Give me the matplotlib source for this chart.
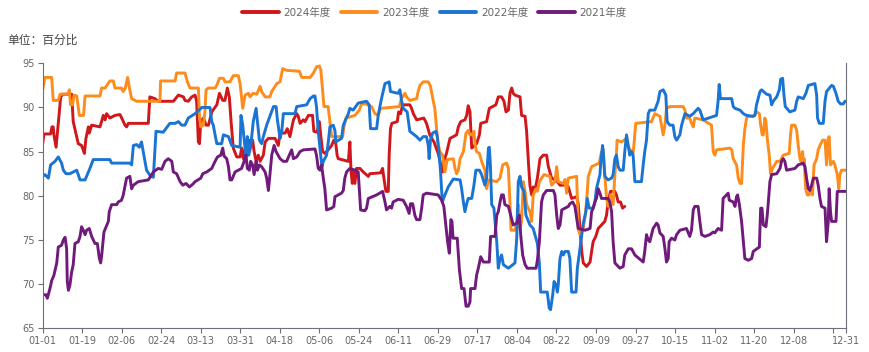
"""Daily share chart, four years compared (2021-2024)."""

import numpy as np
import matplotlib
matplotlib.use("Agg")
import matplotlib.pyplot as plt

plt.rcParams['font.family'] = ['DejaVu Sans', 'Noto Sans CJK SC']

# x positions are day-of-year indices (01-01 = 0)
tick_days = list(range(0, 361, 18)) + [366]
tick_labels = ['01-01', '01-19', '02-06', '02-24', '03-13', '03-31', '04-18',
               '05-06', '05-24', '06-11', '06-29', '07-17', '08-04', '08-22',
               '09-09', '09-27', '10-15', '11-02', '11-20', '12-08', '', '12-31']

series_names = ['2024年度', '2023年度', '2022年度', '2021年度']
series_colors = ['#d0171b', '#fd8c1c', '#1a74d4', '#701b7c']

# (day, value) vertices
pts_2024 = [
    (0, 85.9), (0.6, 87.0), (3.6, 87.0), (4.2, 87.8), (4.8, 87.8), (5.1, 86.9), (6.1, 85.5),
    (8.2, 91.2), (9.1, 91.5), (13.2, 91.5), (13.9, 88.4), (16.2, 85.9), (17.7, 85.7), (19.0, 84.8),
    (19.7, 86.5), (20.8, 87.8), (21.2, 87.1), (22.3, 88.0), (26.1, 87.8), (27.6, 89.1), (28.4, 88.6),
    (29.1, 89.3), (30.6, 88.8), (32.9, 89.1), (35.2, 89.2), (37.5, 88.0), (38.2, 87.8), (39.0, 88.2),
    (48.1, 88.2), (48.8, 91.2), (51.1, 91.0), (52.6, 90.7), (59.5, 90.7), (61.8, 91.4), (64.1, 91.2),
    (64.8, 90.8), (66.3, 90.7), (67.9, 91.2), (69.4, 91.4), (70.1, 90.7), (70.9, 86.1), (71.4, 85.9),
    (72.0, 88.4), (73.2, 88.8), (74.4, 88.0), (75.5, 88.0), (77.0, 89.5), (79.3, 90.3), (80.5, 91.6),
    (82.0, 90.8), (83.0, 90.8), (84.1, 92.2), (85.0, 91.2), (85.8, 88.4), (86.8, 85.4), (88.4, 84.4),
    (89.9, 84.4), (90.6, 85.4), (91.4, 84.2), (92.6, 85.9), (93.7, 85.0), (94.4, 86.3), (95.6, 86.3),
    (96.3, 85.0), (97.2, 83.9), (98.2, 84.6), (99.0, 83.9), (100.5, 84.6), (101.3, 86.1), (102.8, 86.5),
    (105.8, 86.5), (107.3, 85.7), (108.1, 87.1), (110.4, 87.1), (111.4, 87.6), (112.6, 86.7),
    (114.2, 88.6), (115.7, 89.3), (116.4, 89.0), (117.2, 88.2), (118.7, 88.6), (119.5, 88.4),
    (121.0, 89.1), (122.9, 89.1), (123.5, 87.3), (125.0, 87.2), (126.0, 88.4), (126.6, 86.9),
    (127.5, 85.0), (128.5, 84.8), (130.0, 85.2), (131.6, 85.7), (132.6, 86.3), (133.5, 85.9),
    (134.1, 84.6), (134.6, 84.2), (139.2, 83.9), (139.9, 86.1), (140.4, 82.9), (141.0, 81.4),
    (141.4, 82.7), (142.2, 81.4), (142.9, 83.1), (144.5, 83.1), (146.0, 82.7), (148.3, 82.2),
    (149.0, 82.5), (153.9, 82.6), (154.8, 83.1), (155.4, 82.0), (156.3, 80.5), (157.4, 80.5),
    (157.8, 84.6), (158.4, 87.6), (159.0, 88.2), (161.5, 88.4), (162.1, 89.5), (163.0, 89.3),
    (163.9, 90.3), (167.2, 90.3), (168.0, 89.9), (168.8, 89.3), (170.3, 88.6), (173.6, 88.8),
    (174.8, 88.2), (176.3, 86.9), (178.2, 86.1), (180.1, 84.8), (181.7, 83.1), (182.1, 82.7),
    (182.7, 83.9), (183.9, 84.8), (185.5, 86.5), (188.5, 86.9), (189.3, 87.8), (190.4, 88.4),
    (192.3, 88.6), (193.1, 89.1), (193.8, 90.2), (194.6, 89.5), (195.4, 85.4), (197.6, 85.9),
    (198.9, 86.9), (199.5, 88.2), (202.2, 88.4), (203.4, 89.9), (206.4, 90.3), (207.5, 91.2),
    (209.0, 91.2), (210.1, 90.7), (211.0, 89.5), (212.1, 89.7), (212.8, 91.6), (213.6, 92.2),
    (214.3, 91.6), (215.1, 91.4), (217.4, 91.2), (218.1, 89.1), (219.7, 89.0), (220.4, 87.3),
    (221.2, 83.9), (221.9, 81.2), (222.7, 80.1), (223.4, 81.0), (224.2, 80.6), (225.3, 82.0),
    (226.5, 84.2), (228.0, 84.6), (229.5, 84.6), (230.3, 83.3), (231.8, 82.0), (234.1, 81.7),
    (235.6, 81.2), (237.1, 81.2), (237.9, 81.8), (239.4, 81.0), (240.9, 79.7), (243.2, 79.9),
    (243.9, 79.1), (244.7, 76.3), (245.5, 73.7), (246.2, 72.4), (247.7, 72.0), (249.3, 72.5),
    (250.0, 73.7), (250.7, 74.8), (251.9, 75.4), (253.0, 76.3), (254.5, 76.7), (256.0, 77.1),
    (256.8, 77.8), (257.5, 79.3), (258.6, 80.5), (260.6, 80.5), (261.3, 80.1), (262.1, 79.3),
    (263.2, 79.3), (264.1, 78.6), (265.1, 78.8),
]

pts_2023 = [
    (0, 92.0), (1.0, 93.4), (4.1, 93.4), (4.8, 90.8), (7.1, 90.8), (7.9, 91.5), (11.7, 91.5),
    (12.1, 92.0), (12.7, 90.3), (13.6, 90.3), (14.3, 91.4), (15.5, 91.3), (16.7, 89.1), (18.6, 89.1),
    (19.3, 91.3), (26.1, 91.3), (26.8, 92.2), (28.4, 92.2), (30.6, 93.0), (32.2, 93.0), (32.9, 92.2),
    (35.9, 92.2), (36.7, 91.8), (37.6, 92.2), (38.7, 93.4), (39.5, 92.2), (40.5, 91.0), (42.8, 90.7),
    (53.4, 90.7), (53.7, 93.0), (60.3, 93.0), (61.0, 93.9), (64.8, 93.9), (65.9, 92.9), (67.1, 92.2),
    (70.9, 92.2), (71.4, 89.1), (72.0, 87.8), (73.2, 88.0), (73.9, 89.5), (74.4, 92.0), (75.5, 92.2),
    (78.5, 92.2), (79.3, 92.5), (80.5, 93.3), (82.3, 93.3), (83.0, 92.9), (85.3, 92.9), (86.8, 93.6),
    (89.1, 93.6), (89.9, 92.7), (91.1, 89.9), (92.2, 91.4), (93.7, 91.6), (94.4, 91.2), (95.9, 91.6),
    (97.5, 91.5), (99.0, 92.4), (99.7, 91.8), (101.3, 91.2), (103.5, 91.2), (104.3, 91.8),
    (106.6, 92.7), (108.1, 92.9), (109.3, 94.4), (111.1, 94.2), (116.9, 94.1), (118.0, 93.4),
    (121.8, 93.4), (123.3, 93.9), (124.7, 94.6), (126.0, 94.7), (126.7, 94.2), (127.5, 91.8),
    (128.1, 90.1), (130.0, 90.1), (130.8, 88.4), (131.6, 86.7), (136.6, 86.7), (137.2, 87.8),
    (138.1, 88.8), (142.2, 89.1), (144.2, 89.7), (145.2, 90.4), (147.2, 90.4), (149.8, 90.1),
    (151.3, 89.3), (152.8, 89.1), (153.9, 89.9), (162.4, 90.1), (163.4, 91.0), (165.0, 91.6),
    (165.7, 91.2), (167.2, 90.8), (170.3, 91.0), (171.0, 91.8), (171.8, 92.5), (173.3, 92.9),
    (175.6, 92.9), (176.6, 92.4), (177.9, 90.7), (178.6, 89.9), (179.4, 87.6), (180.1, 85.9),
    (180.9, 85.0), (182.1, 84.6), (183.2, 82.7), (184.2, 84.1), (187.0, 84.2), (187.8, 83.1),
    (188.5, 82.5), (189.3, 82.9), (190.1, 84.2), (191.6, 85.0), (192.8, 87.1), (193.8, 87.4),
    (194.6, 86.9), (195.4, 86.9), (196.4, 87.3), (196.9, 85.9), (197.6, 85.0), (198.9, 84.8),
    (199.9, 83.9), (201.4, 82.9), (202.2, 80.8), (203.0, 81.8), (206.7, 81.6), (208.3, 82.0),
    (209.5, 83.5), (211.3, 83.7), (212.1, 83.1), (212.8, 79.3), (213.3, 76.1), (215.1, 76.1),
    (215.9, 76.9), (216.6, 79.0), (217.4, 76.3), (218.1, 77.1), (218.9, 81.6), (219.7, 80.5),
    (220.4, 79.0), (221.9, 78.2), (222.7, 77.1), (223.4, 80.1), (224.7, 80.8), (225.3, 80.5),
    (226.2, 81.6), (228.3, 82.4), (231.0, 82.2), (231.8, 81.2), (233.3, 81.6), (234.1, 83.3),
    (234.8, 81.6), (237.1, 81.4), (237.9, 81.8), (238.6, 80.3), (239.4, 82.0), (243.2, 82.2),
    (243.9, 76.3), (244.7, 75.6), (246.2, 76.3), (247.0, 77.6), (247.7, 79.3), (248.5, 82.2),
    (250.0, 83.3), (253.5, 83.7), (254.5, 85.0), (255.3, 85.2), (256.0, 82.4), (256.8, 79.7),
    (257.5, 78.8), (258.0, 78.8), (258.6, 80.1), (259.8, 79.0), (260.6, 82.4), (261.3, 84.6),
    (261.6, 86.3), (263.6, 86.1), (265.9, 86.5), (266.7, 85.5), (268.9, 84.8), (269.4, 86.1),
    (270.1, 88.2), (277.3, 88.4), (278.8, 89.3), (281.1, 89.0), (281.8, 88.0), (282.6, 86.9),
    (283.4, 88.0), (284.1, 89.9), (285.6, 90.1), (291.7, 90.1), (292.5, 89.7), (293.2, 88.8),
    (294.7, 88.8), (295.5, 88.2), (296.3, 87.8), (297.0, 88.8), (300.8, 88.6), (304.6, 88.0),
    (305.4, 85.0), (306.1, 84.6), (306.9, 85.2), (313.0, 85.4), (313.8, 85.2), (314.5, 84.2),
    (316.0, 83.5), (316.8, 82.0), (317.6, 81.4), (318.3, 81.4), (319.1, 85.7), (319.8, 87.6),
    (320.6, 88.8), (321.3, 89.0), (323.6, 89.0), (325.1, 89.5), (326.4, 89.3), (327.0, 88.0),
    (327.7, 86.9), (328.2, 86.9), (328.9, 88.8), (329.4, 88.4), (330.0, 86.5), (330.9, 84.6),
    (331.5, 82.5), (332.4, 83.1), (334.3, 83.9), (335.8, 83.9), (337.3, 84.6), (340.0, 84.8),
    (340.6, 86.9), (341.1, 88.0), (342.6, 88.0), (343.4, 87.4), (344.1, 85.7), (344.9, 84.2),
    (345.3, 83.9), (346.1, 85.0), (346.4, 83.5), (346.8, 84.2), (347.5, 80.8), (348.2, 80.1),
    (349.1, 80.1), (349.7, 80.8), (350.6, 80.1), (351.3, 83.5), (352.5, 84.2), (353.2, 85.2),
    (354.0, 85.7), (355.2, 86.3), (356.3, 86.3), (357.0, 83.5), (357.8, 86.5), (358.2, 86.7),
    (358.8, 83.5), (360.1, 83.9), (360.8, 83.5), (361.9, 82.4), (362.6, 80.8), (363.1, 82.4),
    (363.8, 82.9), (366.0, 82.9),
]

pts_2022 = [
    (0, 82.2), (1.0, 82.4), (2.6, 82.0), (3.6, 83.5), (5.6, 83.9), (7.1, 84.4), (8.6, 83.7),
    (9.4, 82.9), (10.6, 82.5), (12.4, 82.5), (13.9, 82.7), (15.5, 82.9), (16.2, 82.4), (17.0, 81.8),
    (19.3, 81.8), (20.8, 82.7), (21.5, 83.1), (23.0, 84.1), (30.6, 84.1), (31.4, 83.7), (39.7, 83.7),
    (40.5, 83.5), (41.3, 85.7), (42.8, 85.8), (44.0, 85.5), (45.0, 86.1), (45.8, 85.0), (47.3, 82.9),
    (49.2, 82.2), (50.4, 82.1), (51.6, 87.3), (54.9, 87.2), (57.9, 88.2), (60.3, 88.2), (61.8, 88.4),
    (63.3, 88.0), (64.8, 88.0), (66.3, 88.8), (69.4, 89.3), (71.7, 89.8), (72.4, 90.0), (76.2, 90.0),
    (77.0, 88.4), (77.7, 88.0), (78.5, 86.9), (79.3, 85.9), (81.5, 85.9), (82.3, 86.9), (84.6, 86.7),
    (86.1, 85.7), (89.9, 85.5), (90.3, 89.1), (91.1, 88.0), (91.7, 86.5), (92.6, 84.4), (93.2, 86.7),
    (93.8, 84.6), (94.7, 85.5), (95.9, 88.4), (97.2, 89.9), (97.8, 88.4), (98.7, 86.3), (99.7, 85.9),
    (100.5, 86.7), (102.0, 88.0), (103.5, 89.0), (105.1, 90.1), (106.3, 90.1), (106.9, 88.6),
    (108.1, 86.5), (108.9, 87.3), (109.6, 89.3), (114.9, 89.3), (115.7, 90.1), (120.2, 90.3),
    (121.8, 91.0), (123.3, 91.3), (124.0, 91.3), (124.7, 90.1), (125.5, 87.3), (126.6, 84.6),
    (127.2, 83.3), (127.8, 83.9), (129.3, 84.6), (130.0, 85.9), (130.8, 87.8), (132.3, 88.0),
    (133.1, 87.4), (133.5, 86.1), (136.1, 86.5), (136.9, 88.0), (139.2, 89.3), (139.9, 89.9),
    (141.4, 89.7), (143.7, 90.5), (147.5, 90.7), (148.7, 90.3), (149.3, 87.6), (152.1, 87.6),
    (152.8, 89.1), (154.3, 91.0), (155.9, 92.7), (157.8, 92.9), (158.4, 91.8), (161.9, 91.6),
    (162.7, 92.0), (163.4, 90.8), (164.2, 89.9), (166.0, 89.5), (167.2, 87.3), (170.3, 86.7),
    (171.8, 86.3), (173.3, 86.7), (174.8, 86.7), (175.6, 85.7), (176.0, 84.2), (176.6, 86.3),
    (177.6, 87.1), (179.1, 87.3), (179.7, 86.7), (180.6, 84.6), (181.2, 82.7), (182.0, 79.3),
    (183.2, 80.1), (184.7, 81.0), (186.2, 81.6), (187.0, 81.9), (190.1, 81.8), (190.8, 80.8),
    (191.6, 79.3), (192.3, 78.2), (193.1, 79.1), (193.8, 79.7), (195.4, 79.7), (196.4, 81.2),
    (197.3, 82.9), (198.9, 82.9), (199.9, 82.4), (201.4, 81.2), (202.2, 82.0), (203.0, 85.4),
    (203.4, 85.5), (203.9, 83.5), (204.5, 79.0), (205.5, 78.6), (206.8, 74.8), (207.5, 71.8),
    (208.3, 72.9), (209.0, 73.3), (209.8, 72.2), (212.1, 71.8), (215.1, 72.4), (215.9, 75.2),
    (216.6, 81.6), (217.4, 82.2), (218.1, 81.0), (219.2, 80.5), (220.1, 77.8), (221.9, 76.7),
    (223.4, 76.3), (224.2, 75.6), (225.3, 74.6), (226.2, 72.4), (226.8, 69.1), (229.8, 69.1),
    (230.7, 67.3), (231.3, 67.1), (232.3, 68.8), (232.9, 70.3), (233.8, 69.9), (234.4, 69.1),
    (234.8, 69.9), (235.6, 72.9), (236.4, 73.7), (237.1, 73.3), (237.9, 73.7), (239.4, 73.7),
    (240.1, 72.9), (240.9, 69.1), (242.9, 69.1), (243.5, 71.8), (244.7, 74.0), (246.2, 76.9),
    (247.4, 78.2), (248.0, 79.7), (248.9, 78.6), (250.7, 78.6), (251.5, 79.3), (252.2, 80.8),
    (253.8, 82.4), (254.2, 83.9), (255.0, 85.7), (255.3, 85.0), (256.0, 82.2), (257.5, 81.8),
    (259.1, 82.0), (259.8, 82.4), (260.6, 84.2), (261.3, 84.6), (262.1, 83.3), (262.9, 82.9),
    (264.4, 82.9), (265.1, 85.0), (265.9, 86.9), (266.7, 85.7), (267.4, 84.6), (268.2, 85.0),
    (268.9, 84.6), (269.7, 81.6), (272.7, 81.6), (273.5, 83.5), (274.2, 85.0), (275.0, 86.3),
    (275.8, 89.3), (276.5, 89.7), (278.8, 89.7), (280.3, 90.7), (281.1, 91.8), (282.6, 92.0),
    (283.8, 91.4), (284.4, 88.4), (285.6, 88.0), (287.1, 88.0), (287.9, 86.7), (288.7, 86.3),
    (290.2, 86.9), (291.0, 88.0), (292.5, 89.3), (294.7, 89.0), (296.3, 89.3), (298.5, 89.9),
    (299.3, 89.7), (300.8, 88.6), (306.9, 89.1), (307.6, 90.7), (308.1, 92.6), (308.7, 91.0),
    (311.4, 91.0), (313.8, 91.0), (314.5, 90.1), (315.3, 89.9), (317.6, 89.7), (319.1, 89.3),
    (320.6, 89.1), (323.6, 89.0), (324.4, 89.1), (325.1, 90.3), (326.7, 91.8), (327.4, 92.0),
    (329.7, 91.5), (331.2, 91.4), (332.0, 90.3), (332.7, 90.7), (334.3, 91.2), (335.5, 92.0),
    (336.1, 93.2), (337.0, 93.3), (337.6, 91.4), (338.2, 90.1), (340.3, 89.5), (342.6, 89.7),
    (343.4, 90.7), (344.1, 91.2), (346.4, 91.0), (347.6, 91.6), (348.7, 92.5), (351.7, 92.7),
    (352.5, 91.4), (352.9, 88.8), (353.7, 88.2), (355.5, 88.2), (356.3, 90.7), (357.0, 91.8),
    (359.3, 92.5), (360.1, 92.4), (361.3, 91.6), (362.3, 90.7), (363.4, 90.4), (364.6, 90.4),
    (365.4, 90.7), (366.0, 90.7),
]

pts_2021 = [
    (0, 68.8), (1.5, 68.8), (2.1, 68.4), (3.3, 69.5), (4.1, 70.4), (5.1, 71.0), (6.4, 72.4),
    (7.1, 74.2), (8.6, 74.4), (9.4, 75.0), (10.2, 75.3), (10.9, 74.0), (11.2, 70.3), (11.7, 69.3),
    (12.4, 69.9), (13.2, 71.4), (13.9, 72.2), (14.7, 74.6), (16.2, 74.8), (17.0, 75.4), (17.7, 76.5),
    (18.5, 76.1), (19.3, 75.6), (20.0, 76.1), (21.2, 76.3), (22.3, 75.4), (23.8, 74.6), (24.9, 74.6),
    (25.8, 72.9), (26.4, 72.4), (26.8, 73.1), (27.9, 75.9), (29.9, 77.1), (30.3, 78.2), (31.4, 79.0),
    (33.7, 79.0), (34.4, 79.3), (35.9, 79.5), (36.7, 80.1), (38.2, 82.0), (39.7, 82.2), (40.5, 80.8),
    (41.3, 81.2), (43.5, 81.6), (48.1, 81.8), (50.4, 82.7), (52.6, 83.1), (54.2, 83.0), (55.7, 83.9),
    (57.2, 84.2), (58.8, 83.9), (59.5, 82.7), (61.0, 82.5), (62.6, 81.6), (63.8, 81.2), (65.3, 81.4),
    (66.8, 81.0), (68.3, 81.3), (69.4, 81.6), (72.0, 82.0), (72.9, 82.5), (74.7, 82.7), (77.0, 83.1),
    (78.5, 83.9), (79.6, 84.4), (81.1, 84.6), (82.0, 85.4), (82.6, 84.5), (83.8, 84.2), (84.6, 83.3),
    (85.3, 81.8), (86.1, 81.8), (87.6, 82.7), (90.6, 83.1), (91.7, 83.9), (92.6, 84.6), (93.2, 83.1),
    (94.1, 82.9), (94.7, 83.9), (95.6, 83.5), (96.3, 82.4), (97.2, 83.9), (97.8, 82.9), (98.7, 83.5),
    (99.7, 83.3), (101.3, 82.7), (102.0, 82.0), (102.8, 80.6), (103.5, 82.4), (104.3, 84.6),
    (105.4, 85.7), (106.3, 85.0), (108.1, 84.2), (109.6, 83.9), (111.1, 83.9), (112.3, 84.6),
    (113.4, 85.2), (114.2, 84.2), (115.7, 84.4), (117.2, 85.0), (118.7, 85.2), (124.0, 85.3),
    (124.7, 84.6), (125.5, 83.1), (126.3, 82.9), (127.0, 83.5), (127.8, 82.0), (128.5, 80.8),
    (129.3, 78.4), (131.6, 78.6), (132.6, 78.8), (133.1, 79.9), (136.1, 80.3), (136.9, 80.6),
    (137.6, 82.0), (138.4, 82.7), (139.9, 83.1), (142.2, 82.9), (143.7, 82.7), (144.2, 80.8),
    (144.8, 78.4), (146.7, 78.3), (147.5, 78.6), (148.3, 79.7), (152.1, 80.1), (154.8, 80.5),
    (155.9, 79.3), (156.6, 78.4), (158.1, 78.8), (158.9, 78.6), (159.6, 79.3), (161.9, 79.6),
    (164.2, 79.5), (165.7, 78.8), (166.9, 78.0), (167.5, 79.1), (168.5, 79.1), (169.5, 77.8),
    (170.3, 77.3), (171.8, 77.3), (172.6, 78.6), (173.3, 80.1), (174.8, 80.3), (180.1, 80.1),
    (181.7, 79.5), (182.7, 78.8), (183.6, 76.7), (184.4, 74.8), (185.2, 73.5), (185.9, 77.3),
    (186.4, 77.1), (186.9, 75.2), (188.8, 75.2), (189.8, 71.6), (190.8, 69.5), (191.9, 69.5),
    (192.8, 67.5), (193.8, 67.5), (194.6, 68.0), (194.9, 69.5), (196.9, 69.5), (197.6, 71.0),
    (198.4, 71.8), (199.5, 73.1), (200.7, 72.5), (203.4, 72.5), (204.0, 75.4), (206.0, 75.4),
    (206.8, 77.8), (207.5, 78.2), (208.3, 79.3), (209.0, 80.1), (209.8, 80.1), (210.5, 79.0),
    (212.1, 78.8), (213.6, 77.4), (214.3, 76.7), (215.9, 76.9), (217.1, 77.8), (217.7, 75.6),
    (218.6, 73.3), (219.7, 72.2), (220.7, 71.8), (224.7, 71.8), (225.3, 72.7), (226.2, 74.8),
    (227.2, 79.3), (228.0, 80.1), (229.5, 80.6), (232.6, 80.6), (233.3, 80.1), (234.1, 77.8),
    (234.8, 76.3), (235.6, 76.7), (236.4, 78.4), (239.4, 78.8), (240.1, 79.1), (241.4, 79.3),
    (242.4, 78.8), (243.9, 76.3), (247.0, 76.1), (249.3, 76.3), (250.0, 78.2), (250.7, 78.6),
    (251.5, 79.3), (252.2, 79.7), (253.0, 80.8), (253.8, 80.3), (254.5, 79.7), (257.5, 79.7),
    (258.3, 79.3), (259.1, 78.2), (259.8, 74.8), (260.6, 72.4), (262.9, 71.8), (264.4, 72.0),
    (265.1, 73.3), (266.7, 74.0), (268.2, 74.0), (269.7, 73.3), (273.5, 72.5), (274.2, 73.7),
    (275.0, 75.6), (275.8, 75.0), (276.5, 74.8), (278.0, 76.3), (279.6, 76.9), (280.3, 76.7),
    (281.1, 75.8), (282.6, 75.4), (283.4, 74.0), (284.1, 72.5), (284.9, 72.9), (285.3, 74.8),
    (286.4, 75.2), (287.9, 75.0), (288.7, 75.6), (290.2, 76.1), (293.2, 76.3), (294.7, 75.4),
    (295.5, 76.1), (296.3, 78.4), (297.0, 78.8), (298.5, 78.8), (299.3, 77.1), (300.1, 75.6),
    (301.6, 75.4), (303.8, 75.6), (305.4, 75.9), (306.1, 75.8), (307.6, 76.3), (309.2, 76.1),
    (309.9, 79.7), (311.4, 80.1), (312.2, 80.3), (312.7, 79.5), (314.5, 79.3), (315.3, 78.8),
    (316.0, 79.9), (316.5, 80.1), (317.3, 79.0), (318.3, 77.1), (319.1, 74.8), (319.8, 72.9),
    (321.3, 72.7), (322.9, 72.9), (323.6, 73.7), (326.4, 74.2), (327.0, 78.6), (327.6, 78.6),
    (328.2, 76.7), (329.4, 76.5), (330.0, 77.8), (330.5, 79.3), (331.2, 81.6), (332.0, 82.4),
    (334.3, 82.5), (335.8, 83.1), (336.5, 83.9), (337.3, 84.2), (338.0, 83.9), (338.8, 82.9),
    (342.6, 83.1), (344.1, 83.5), (346.4, 83.7), (347.2, 83.3), (347.9, 82.0), (348.7, 80.8),
    (349.4, 80.6), (350.2, 81.2), (351.0, 82.0), (352.5, 82.0), (353.2, 81.2), (354.0, 79.7),
    (354.7, 78.8), (356.3, 78.6), (357.0, 74.8), (357.8, 77.1), (358.2, 80.8), (358.8, 78.2),
    (359.3, 77.1), (361.3, 77.1), (361.9, 80.5), (366.0, 80.5),
]

all_points = [pts_2024, pts_2023, pts_2022, pts_2021]

fig = plt.figure(figsize=(8.69, 3.52), dpi=100)
ax = fig.add_axes([42.7 / 869, 23.7 / 352, 803.6 / 869, 265.0 / 352])

for pts, name, color in zip(all_points, series_names, series_colors):
    arr = np.array(pts)
    ax.plot(arr[:, 0], arr[:, 1], color=color, linewidth=2.1, label=name,
            solid_joinstyle='round', solid_capstyle='round')

ax.set_xlim(0, 366)
ax.set_ylim(65, 95)
ax.set_yticks(range(65, 96, 5))
ax.set_xticks(tick_days)
ax.set_xticklabels(tick_labels)

axis_color = '#6e7079'
for side in ('left', 'bottom', 'right'):
    ax.spines[side].set_color(axis_color)
    ax.spines[side].set_linewidth(0.8)
ax.spines['top'].set_visible(False)
ax.tick_params(axis='both', direction='out', length=3.6, width=0.8,
               color=axis_color, labelcolor='#666666', labelsize=7, pad=2)
ax.tick_params(axis='y', right=False)

fig.text(7 / 869, 1 - 40 / 352, '单位：百分比', fontsize=8.5, color='#444444',
         ha='left', va='center')

leg = fig.legend(loc='center', bbox_to_anchor=(0.5, 1 - 13 / 352), ncol=4,
                 frameon=False, fontsize=7.5, handlelength=3.5, handletextpad=0.45,
                 columnspacing=1.0, labelcolor='#666666')
for line in leg.get_lines():
    line.set_linewidth(2.8)
    line.set_solid_capstyle('round')

fig.savefig('out.png', dpi=100)
